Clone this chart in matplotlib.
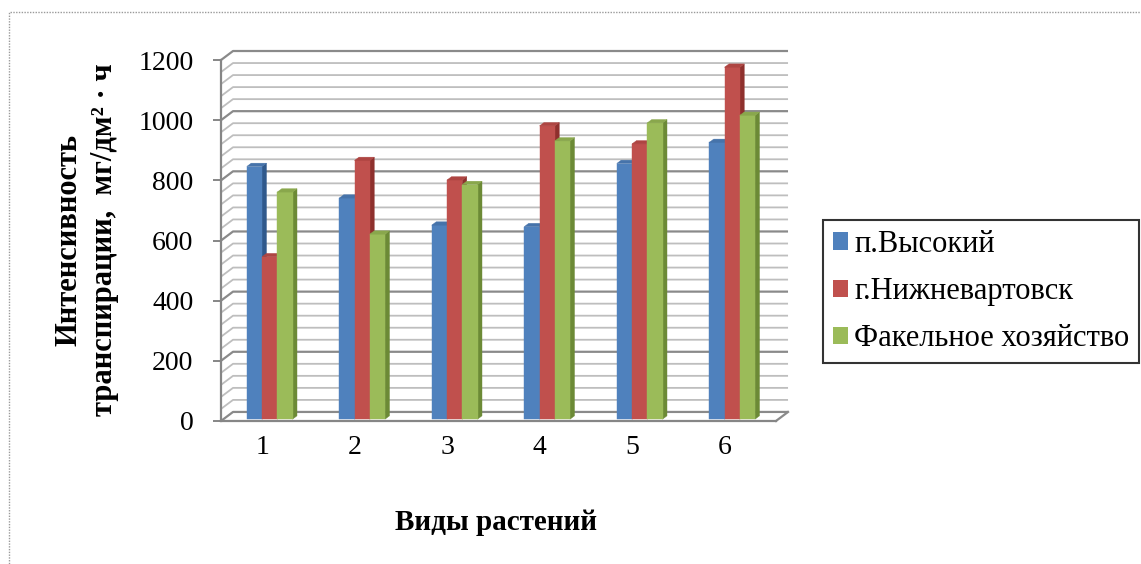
import matplotlib
matplotlib.use('Agg')
import matplotlib.pyplot as plt
from matplotlib.patches import Polygon, Rectangle
from matplotlib.transforms import ScaledTranslation

# --- data -------------------------------------------------------------
categories = ['1', '2', '3', '4', '5', '6']
series_names = ['п.Высокий', 'г.Нижневартовск', 'Факельное хозяйство']
vysokiy = [840, 735, 645, 640, 850, 920]
nizhnevartovsk = [540, 860, 795, 975, 915, 1170]
fakel = [755, 615, 780, 925, 985, 1010]
y_ticks = [0, 200, 400, 600, 800, 1000, 1200]

series_values = [vysokiy, nizhnevartovsk, fakel]
front_colors = ['#4F81BD', '#C0504D', '#9BBB59']
side_colors = ['#30598C', '#8E302D', '#6C8A36']
top_colors = ['#4673AA', '#AE4542', '#89A74C']

plt.rcParams['font.family'] = ['Liberation Serif', 'DejaVu Serif']

W, H = 1141, 564
fig = plt.figure(figsize=(W / 100, H / 100), dpi=100)
fig.patch.set_facecolor('white')

# axes placed so that the front plane spans x 0..6, y 0..1200
ax = fig.add_axes([211.75 / W, 1 - 433 / H, 592 / W, 385 / H])
ax.set_xlim(-0.1, 6.3)
ax.set_ylim(-40, 1240)
ax.patch.set_visible(False)

# pseudo-3D depth offset (data units)
DX, DY = 0.13, 30
ymax = y_ticks[-1]
ncat = len(categories)

# back wall + side wall gridlines
for v in range(0, ymax + 1, 40):
    major = v % 200 == 0
    col = '#8A8A8A' if major else '#BEBEBE'
    lw = 1.6 if major else 1.3
    ax.plot([0, DX, ncat + DX], [v, v + DY, v + DY], color=col, lw=lw,
            zorder=1, solid_capstyle='butt')

# floor right edge
ax.plot([ncat, ncat + DX], [0, DY], color='#8A8A8A', lw=1.6, zorder=2)

# bars
f0, f1 = 0.2, 0.57
d = f1 - f0
bw = 0.165
base = f0 * DY
for j, vals in enumerate(series_values):
    lefts = [i + 0.5 - 1.5 * bw + j * bw + f0 * DX for i in range(ncat)]
    ax.bar(lefts, vals, width=bw, bottom=base, align='edge',
           color=front_colors[j], edgecolor=front_colors[j], lw=0.3,
           zorder=11 + 2 * j)
    for x0, v in zip(lefts, vals):
        x1 = x0 + bw
        top = base + v
        side = Polygon([(x1, base), (x1 + d * DX, base + d * DY),
                        (x1 + d * DX, top + d * DY), (x1, top)],
                       closed=True, fc=side_colors[j], ec=side_colors[j],
                       lw=0.3, zorder=10 + 2 * j)
        cap = Polygon([(x0, top), (x1, top), (x1 + d * DX, top + d * DY),
                       (x0 + d * DX, top + d * DY)],
                      closed=True, fc=top_colors[j], ec=top_colors[j],
                      lw=0.3, zorder=12 + 2 * j)
        ax.add_patch(side)
        ax.add_patch(cap)

# axes, ticks and labels
for s in ('top', 'right'):
    ax.spines[s].set_visible(False)
ax.spines['left'].set_position(('data', 0))
ax.spines['left'].set_bounds(0, ymax)
ax.spines['bottom'].set_position(('data', 0))
ax.spines['bottom'].set_bounds(0, ncat)
for s in ('left', 'bottom'):
    ax.spines[s].set_color('#868686')
    ax.spines[s].set_linewidth(1.6)
    ax.spines[s].set_zorder(5)

ax.set_yticks(y_ticks)
ax.set_yticklabels([str(t) for t in y_ticks])
ax.tick_params(axis='y', direction='out', length=5.8, width=1.4,
               color='#868686', pad=14, labelsize=20)
ax.set_xticks([i + 0.5 for i in range(ncat)])
ax.set_xticklabels(categories)
ax.tick_params(axis='x', length=0, pad=10, labelsize=20)
shift = ScaledTranslation(-5 / 100, 0, fig.dpi_scale_trans)
for lbl in ax.get_xticklabels():
    lbl.set_transform(lbl.get_transform() + shift)

fig.text(87 / W, 1 - 240 / H, 'Интенсивность\nтранспирации,  мг/дм² · ч',
         rotation=90, ha='center', va='center', fontsize=22,
         fontweight='bold', multialignment='center', linespacing=1.3)
fig.text(496 / W, 1 - 522 / H, 'Виды растений', ha='center', va='center',
         fontsize=21, fontweight='bold')

# legend
handles = [Rectangle((0, 0), 1, 1, fc=c, ec='none') for c in front_colors]
leg = fig.legend(handles, series_names, loc='upper left',
                 bbox_to_anchor=(823 / W, 1 - 220 / H), frameon=True,
                 fancybox=False, fontsize=22, handlelength=0.5,
                 handleheight=0.5, handletextpad=0.2, labelspacing=0.6,
                 borderpad=0.32, borderaxespad=0)
leg.get_frame().set_edgecolor('black')
leg.get_frame().set_linewidth(1.5)

# chart-area border
fig.patches.append(Rectangle((9 / W, -0.1), 1.2, 1.1 - 12 / H,
                             transform=fig.transFigure, fill=False,
                             ec='#9A9A9A', lw=1.0, ls=(0, (1, 1))))

fig.savefig('out.png', dpi=100)
